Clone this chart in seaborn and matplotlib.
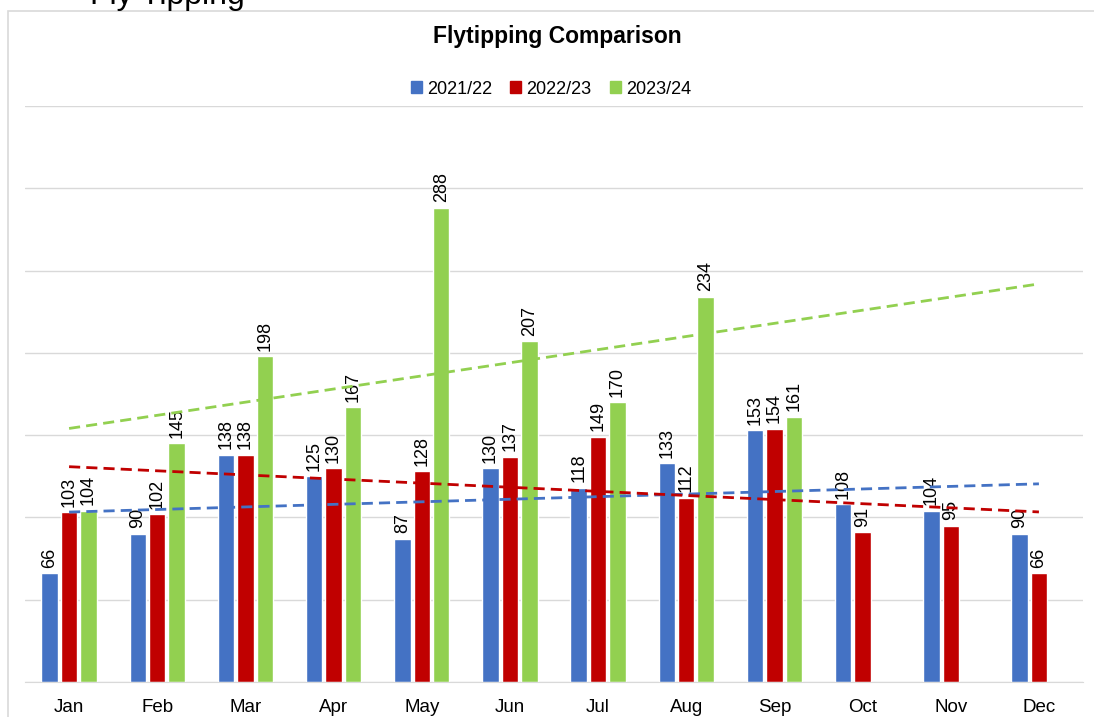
import matplotlib
matplotlib.use('Agg')
import matplotlib.pyplot as plt
from matplotlib.patches import Rectangle
import seaborn as sns
import pandas as pd
import numpy as np

months = ["Jan", "Feb", "Mar", "Apr", "May", "Jun", "Jul", "Aug", "Sep", "Oct", "Nov", "Dec"]
y2122 = [66, 90, 138, 125, 87, 130, 118, 133, 153, 108, 104, 90]
y2223 = [103, 102, 138, 130, 128, 137, 149, 112, 154, 91, 95, 66]
y2324 = [104, 145, 198, 167, 288, 207, 170, 234, 161, None, None, None]
series = ["2021/22", "2022/23", "2023/24"]
colors = ["#4472C4", "#C00000", "#92D050"]

rows = []
for name, vals in zip(series, [y2122, y2223, y2324]):
    for m, v in zip(months, vals):
        rows.append({"Month": m, "Year": name, "Count": v})
df = pd.DataFrame(rows)

sns.set_style("white")
plt.rcParams['font.family'] = ['Liberation Sans', 'DejaVu Sans']
plt.rcParams['text.color'] = 'black'
plt.rcParams['xtick.color'] = 'black'

fig = plt.figure(figsize=(10.94, 7.17), dpi=100)
ax = fig.add_axes([25 / 1094, 1 - 682 / 717, (1083 - 25) / 1094, (682 - 106) / 717])

sns.barplot(data=df.dropna(), x="Month", y="Count", hue="Year", order=months,
            hue_order=series, palette=colors, width=0.66, gap=0.15,
            saturation=1, ax=ax, legend=False, errorbar=None)

for cont in ax.containers:
    labels = [f"{int(v)}" for v in cont.datavalues]
    ax.bar_label(cont, labels=labels, rotation=90, padding=4, fontsize=13, color="black")

# linear trend lines
xs = np.arange(len(months))
for vals, c in zip([y2122, y2223, y2324], colors):
    v = np.array([np.nan if a is None else a for a in vals], dtype=float)
    ok = ~np.isnan(v)
    k, b = np.polyfit(xs[ok], v[ok], 1)
    ax.plot(xs, k * xs + b, color=c, lw=2, ls=(0, (4, 2.2)), zorder=3)

ax.set_ylim(0, 350)
ax.set_xlim(-0.5, 11.5)
ax.set_yticks(range(0, 351, 50))
ax.set_yticklabels([])
ax.tick_params(axis='y', length=0)
ax.tick_params(axis='x', length=0, labelsize=13.5, pad=12, labelcolor="black")
ax.yaxis.grid(True, color="#D9D9D9", lw=1)
ax.set_axisbelow(True)
for s in ["top", "right", "left"]:
    ax.spines[s].set_visible(False)
ax.spines["bottom"].set_color("#D9D9D9")
ax.set_xlabel("")
ax.set_ylabel("")

handles = [Rectangle((0, 0), 1, 1, color=c) for c in colors]
fig.legend(handles, series, loc="center", bbox_to_anchor=(0.5 + 4 / 1094, 1 - 89 / 717), ncol=3,
           frameon=False, fontsize=13, handlelength=0.6, handleheight=0.6,
           handletextpad=0.3, columnspacing=1.0, labelcolor="black")

fig.text(0.5 + 10 / 1094, 1 - 37 / 717, "Flytipping Comparison", ha="center", va="center",
         fontsize=16.5, fontweight="bold", color="black")

fig.patches.append(Rectangle((8 / 1094, -0.1), 1.2, 1.1 - 11 / 717, transform=fig.transFigure,
                             fill=False, edgecolor="#D9D9D9", lw=1.2))
fig.text(45 / 1094, 1 - 4 / 717, "•", fontsize=23, va="baseline")
fig.text(90 / 1094, 1 - 4 / 717, "Fly Tipping", fontsize=23, va="baseline")

fig.savefig("out.png", dpi=100)
